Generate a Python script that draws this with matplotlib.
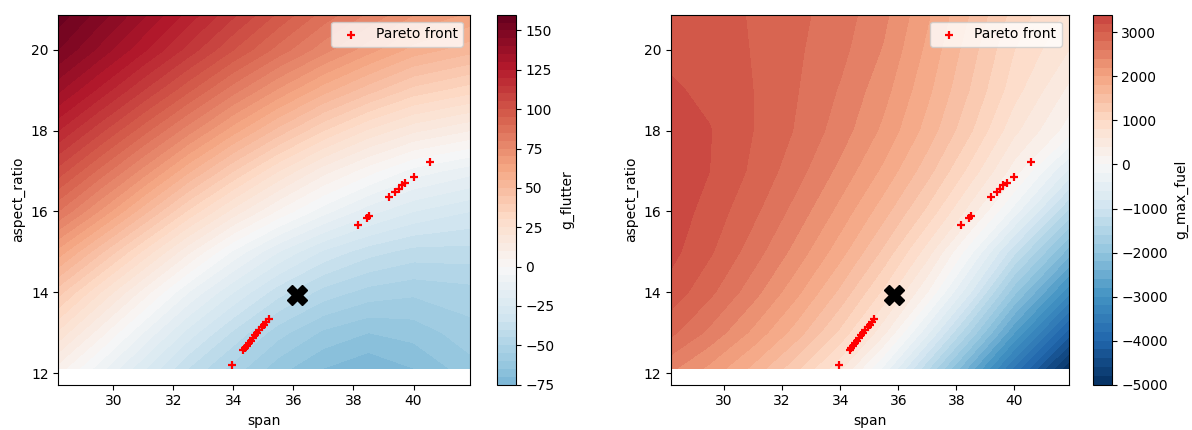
import matplotlib.pyplot as plt
import numpy as np

plt.rcParams["font.size"] = 10

# grid (columns = span, rows = aspect_ratio)
span = [28.17, 29.5, 31.0, 32.5, 34.0, 35.5, 37.0, 38.5, 40.0, 41.88]
aspect_ratio = [12.12, 13.0, 14.0, 15.0, 16.0, 17.0, 18.0, 19.0, 20.0, 20.87]

g_flutter = [
    [8, -7, -24, -40, -52, -63, -70, -74, -70, -62],
    [24, 8, -10, -27, -41, -53, -61, -65, -63, -57],
    [42, 26, 8, -10, -25, -38, -47, -52, -54, -52],
    [63, 47, 29, 11, -6, -20, -31, -38, -42, -42],
    [85, 70, 52, 34, 18, 4, -8, -18, -25, -30],
    [103, 89, 73, 56, 40, 25, 12, 2, -7, -13],
    [120, 107, 92, 77, 62, 48, 35, 24, 16, 10],
    [136, 124, 110, 96, 82, 69, 57, 47, 38, 32],
    [150, 139, 126, 113, 100, 88, 77, 67, 58, 52],
    [158, 148, 136, 123, 111, 99, 88, 79, 70, 64],
]

g_max_fuel = [
    [2450, 2150, 1750, 1250, 650, -250, -1350, -2500, -3650, -4950],
    [2850, 2550, 2150, 1700, 1150, 450, -550, -1650, -2800, -4100],
    [3120, 2850, 2480, 2050, 1550, 950, 200, -800, -1950, -3150],
    [3260, 3030, 2700, 2320, 1880, 1350, 700, -150, -1150, -2300],
    [3320, 3120, 2850, 2520, 2130, 1680, 1150, 500, -300, -1450],
    [3350, 3200, 2960, 2680, 2340, 1950, 1480, 920, 300, -650],
    [3340, 3210, 3000, 2780, 2500, 2150, 1720, 1220, 650, 100],
    [3230, 3150, 3000, 2810, 2580, 2270, 1850, 1380, 880, 350],
    [3150, 3100, 2990, 2830, 2660, 2380, 1950, 1480, 1000, 600],
    [3100, 3070, 2985, 2850, 2700, 2450, 2030, 1580, 1120, 750],
]

# Pareto front points
pareto_span = [33.95, 34.32, 34.38, 34.45, 34.52, 34.58, 34.65, 34.72, 34.80,
               34.87, 34.95, 35.03, 35.10, 35.17, 38.15, 38.45, 38.50, 39.19,
               39.39, 39.50, 39.62, 39.73, 40.00, 40.56]
pareto_ar = [12.21, 12.56, 12.62, 12.68, 12.74, 12.80, 12.86, 12.93, 13.00,
             13.06, 13.13, 13.20, 13.27, 13.33, 15.66, 15.84, 15.89, 16.35,
             16.48, 16.56, 16.65, 16.71, 16.85, 17.22]

# big black X in each panel
best_left = (36.12, 13.92)
best_right = (35.84, 13.93)


def panel(fig, rect, cbar_rect, field, label, best):
    ax = fig.add_axes(rect)
    cax = fig.add_axes(cbar_rect)

    cs = ax.contourf(span, aspect_ratio, np.array(field), levels=50, cmap="RdBu_r")
    lim = np.abs(cs.levels).max()
    cs.set_clim(-lim, lim)

    ax.scatter(pareto_span, pareto_ar, marker="+", c="red", s=40,
               linewidths=1.6, label="Pareto front", zorder=3)
    ax.plot(best[0], best[1], "X", color="black", ms=14, zorder=4)

    ax.set_xlim(28.17, 41.88)
    ax.set_ylim(11.71, 20.87)
    ax.set_xticks([30, 32, 34, 36, 38, 40])
    ax.set_yticks([12, 14, 16, 18, 20])
    ax.set_xlabel("span")
    ax.set_ylabel("aspect_ratio")
    ax.legend(loc="upper right")

    cbar = fig.colorbar(cs, cax=cax)
    cbar.set_label(label)
    return ax


fig = plt.figure(figsize=(11.92, 4.30), dpi=100)
panel(fig, [0.0489, 0.1053, 0.3454, 0.8605], [0.4167, 0.1053, 0.0159, 0.8605],
      g_flutter, "g_flutter", best_left)
panel(fig, [0.5629, 0.1053, 0.3339, 0.8605], [0.9172, 0.1053, 0.0154, 0.8605],
      g_max_fuel, "g_max_fuel", best_right)

fig.savefig("out.png", dpi=100)
